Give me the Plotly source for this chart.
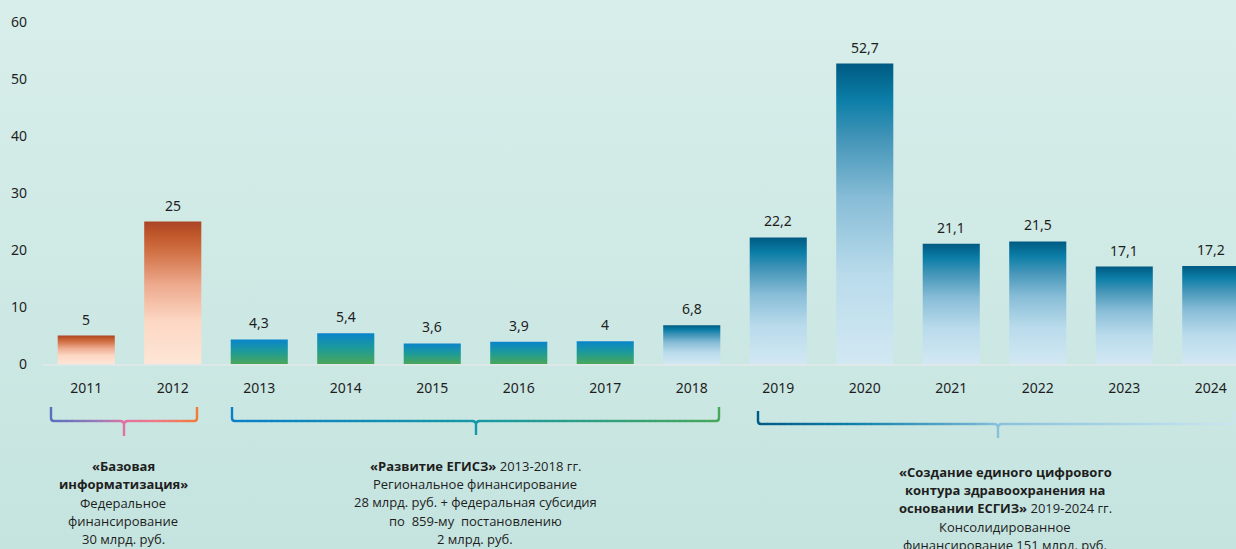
import base64
import plotly.graph_objects as go

# ---------------- data ----------------
years = ["2011", "2012", "2013", "2014", "2015", "2016", "2017",
         "2018", "2019", "2020", "2021", "2022", "2023", "2024"]
values = [5, 25, 4.3, 5.4, 3.6, 3.9, 4, 6.8, 22.2, 52.7, 21.1, 21.5, 17.1, 17.2]
bar_group = ["base", "base", "egisz", "egisz", "egisz", "egisz", "egisz",
             "contour", "contour", "contour", "contour", "contour", "contour", "contour"]
y_ticks = [0, 10, 20, 30, 40, 50, 60]

block1_lines = ["<b>«Базовая</b>", "<b>информатизация»</b>", "Федеральное",
                "финансирование", "30 млрд. руб."]
block2_lines = ["<b>«Развитие ЕГИСЗ»</b> 2013-2018 гг.", "Региональное финансирование",
                "28 млрд. руб. + федеральная субсидия", "по  859-му  постановлению",
                "2 млрд. руб."]
block3_lines = ["<b>«Создание единого цифрового</b>", "<b>контура здравоохранения на</b>",
                "<b>основании ЕСГИЗ»</b> 2019-2024 гг.", "Консолидированное",
                "финансирование 151 млрд. руб."]

# ---------------- styles ----------------
W_PX, H_PX = 1236, 549
L, R, T, B = 43, 0, 22, 185
PW, PH = W_PX - L - R, H_PX - T - B
X_MIN = -0.5
X_MAX = X_MIN + PW / 86.5
BAR_W = 0.66

scales = {
    "base": [[0, "#fee6d6"], [0.3, "#fcd7c3"], [0.55, "#eeab8f"], [0.78, "#d27247"],
             [0.9, "#c1592c"], [1, "#ab4426"]],
    "egisz": [[0, "#4ba65a"], [0.5, "#1d9b98"], [1, "#0984cc"]],
    "contour": [[0, "#d2e8f3"], [0.3, "#b9dbeb"], [0.55, "#88bdd7"], [0.75, "#4395b8"],
                [0.88, "#0b7ea7"], [1, "#005a82"]],
}

font_main = "Noto Sans"
font_text = "Open Sans"
txt_color = "#1e1e1e"


def hex2rgb(h):
    h = h.lstrip("#")
    return tuple(int(h[i:i + 2], 16) for i in (0, 2, 4))


def interp(scale, t):
    t = max(0, min(1, t))
    for (p0, c0), (p1, c1) in zip(scale[:-1], scale[1:]):
        if p0 <= t <= p1:
            f = 0 if p1 == p0 else (t - p0) / (p1 - p0)
            a, b = hex2rgb(c0), hex2rgb(c1)
            return "rgb(%d,%d,%d)" % tuple(round(a[i] + (b[i] - a[i]) * f) for i in range(3))
    return scale[-1][1]


def px_x(px):
    return (px - L) / PW


def px_y(py):
    return (H_PX - B - py) / PH


fig = go.Figure()

# bars as gradient-filled polygons
for i, (yr, v, g) in enumerate(zip(years, values, bar_group)):
    x0, x1 = i - BAR_W / 2, i + BAR_W / 2
    fig.add_trace(go.Scatter(
        x=[x0, x0, x1, x1, x0], y=[0, v, v, 0, 0],
        mode="lines", line=dict(width=0), fill="toself",
        fillgradient=dict(type="vertical", colorscale=scales[g], start=0, stop=v),
        hoverinfo="skip", showlegend=False))

annotations = []
for i, v in enumerate(values):
    annotations.append(dict(
        x=i, y=v, xref="x", yref="y", text=f"{v:g}".replace(".", ","),
        showarrow=False, yanchor="bottom", yshift=5,
        font=dict(family=font_main, size=14, color=txt_color)))

for lines, cx, ys in [(block1_lines, 123, [466, 484.3, 502.5, 520.7, 539]),
                      (block2_lines, 475, [466, 484.2, 502.4, 520.6, 538.8]),
                      (block3_lines, 1005, [471.7, 490, 508.3, 526.6, 544.9])]:
    for txt, yy in zip(lines, ys):
        annotations.append(dict(
            x=px_x(cx), y=px_y(yy), xref="paper", yref="paper", text=txt,
            showarrow=False, xanchor="center", yanchor="middle", align="center",
            font=dict(family=font_text, size=13, color=txt_color)))

# brackets
shapes = []
brackets = [
    (51, 197, 124, 407, 421, 436,
     [[0, "#5a6fc0"], [0.35, "#a07ab8"], [0.5, "#df72a2"], [0.75, "#ee7a80"], [1, "#f27b3a"]]),
    (232, 719, 476, 407, 421, 435,
     [[0, "#0a7fc8"], [0.5, "#1798a6"], [1, "#47a75a"]]),
    (758, 1234, 998, 411, 424, 438,
     [[0, "#005a86"], [0.2, "#1080aa"], [0.45, "#6aaed0"], [0.5, "#88c0dc"], [1, "#cbe5f0"]]),
]
LW = 2.4
for x0, x1, xc, ytop, yh, ybot, sc in brackets:
    span = x1 - x0

    def P(x, y):
        return f"{px_x(x):.6f},{px_y(y):.6f}"

    r = 3
    shapes.append(dict(type="path", xref="paper", yref="paper",
                       path=f"M{P(x0, ytop)} L{P(x0, yh - r)} Q{P(x0, yh)} {P(x0 + r, yh)}",
                       line=dict(color=interp(sc, 0), width=LW)))
    shapes.append(dict(type="path", xref="paper", yref="paper",
                       path=f"M{P(x1 - r, yh)} Q{P(x1, yh)} {P(x1, yh - r)} L{P(x1, ytop)}",
                       line=dict(color=interp(sc, 1), width=LW)))
    tc = interp(sc, (xc - x0) / span)
    shapes.append(dict(type="path", xref="paper", yref="paper",
                       path=(f"M{P(xc - 4, yh)} Q{P(xc, yh)} {P(xc, yh + 4)} L{P(xc, ybot)} "
                             f"M{P(xc + 4, yh)} Q{P(xc, yh)} {P(xc, yh + 4)}"),
                       line=dict(color=tc, width=LW)))
    for a, b in [(x0 + r, xc - 4), (xc + 4, x1 - r)]:
        n = max(2, int((b - a) / 6))
        for k in range(n):
            sa = a + (b - a) * k / n
            sb = a + (b - a) * (k + 1) / n + 0.6
            shapes.append(dict(type="line", xref="paper", yref="paper",
                               x0=px_x(sa), x1=px_x(min(sb, b)), y0=px_y(yh), y1=px_y(yh),
                               line=dict(color=interp(sc, ((sa + sb) / 2 - x0) / span), width=LW)))

# background gradient
svg = (f'<svg xmlns="http://www.w3.org/2000/svg" width="{W_PX}" height="{H_PX}" '
       f'viewBox="0 0 {W_PX} {H_PX}" preserveAspectRatio="none">'
       '<defs><linearGradient id="g" x1="0" y1="0" x2="0" y2="1">'
       '<stop offset="0" stop-color="#d8eeeb"/><stop offset="1" stop-color="#c5e4df"/>'
       '</linearGradient></defs>'
       f'<rect width="{W_PX}" height="{H_PX}" fill="url(#g)"/></svg>')
bg_src = "data:image/svg+xml;base64," + base64.b64encode(svg.encode()).decode()

fig.update_layout(
    width=W_PX, height=H_PX,
    margin=dict(l=L, r=R, t=T, b=B, pad=0),
    paper_bgcolor="#cfe9e5", plot_bgcolor="rgba(0,0,0,0)",
    showlegend=False,
    annotations=annotations, shapes=shapes,
    images=[dict(source=bg_src, xref="paper", yref="paper",
                 x=-L / PW, y=1 + T / PH, sizex=W_PX / PW, sizey=H_PX / PH,
                 xanchor="left", yanchor="top", sizing="stretch", layer="below")],
    xaxis=dict(range=[X_MIN, X_MAX], tickmode="array", tickvals=list(range(len(years))),
               ticktext=years, showgrid=False, zeroline=False, showline=True,
               linecolor="#dfe8e8", linewidth=1.5, ticks="", ticklabelstandoff=10,
               tickfont=dict(family=font_main, size=14, color=txt_color), fixedrange=True),
    yaxis=dict(range=[0, 60], tickmode="array", tickvals=y_ticks, showgrid=False,
               zeroline=False, showline=False, ticks="", ticklabelstandoff=15,
               tickfont=dict(family=font_main, size=14, color=txt_color), fixedrange=True),
)

fig.write_html("out.html", config={"displayModeBar": False},
               post_script="document.body.style.margin='0';document.body.style.overflow='hidden';")
